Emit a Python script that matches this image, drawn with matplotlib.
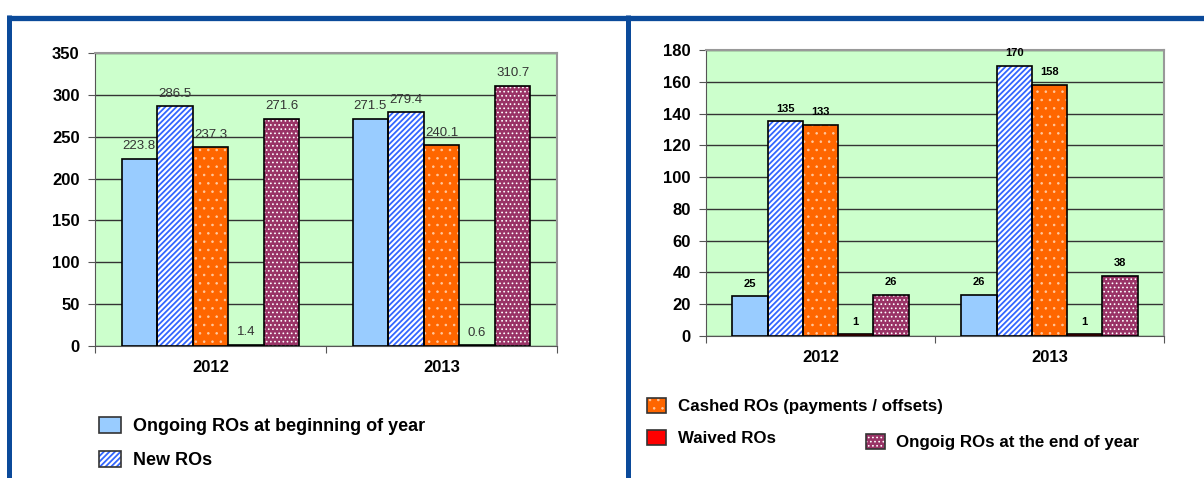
#!/usr/bin/env python3
"""Recovery orders (ROs) 2012/2013: amounts (left) and counts (right)."""
import matplotlib
matplotlib.use("Agg")
import matplotlib.pyplot as plt
from matplotlib.lines import Line2D
from matplotlib.patches import Patch
from matplotlib.legend_handler import HandlerTuple
import numpy as np

# ---------------------------------------------------------------------------
# Data
# ---------------------------------------------------------------------------
YEARS = ["2012", "2013"]
SERIES = ["Ongoing ROs at beginning of year", "New ROs",
          "Cashed ROs (payments / offsets)", "Waived ROs",
          "Ongoig ROs at the end of year"]

AMOUNT_2012 = [223.8, 286.5, 237.3, 1.4, 271.6]
AMOUNT_2013 = [271.5, 279.4, 240.1, 0.6, 310.7]
COUNT_2012 = [25, 135, 133, 1, 26]
COUNT_2013 = [26, 170, 158, 1, 38]

AMOUNT_TICKS = [0, 50, 100, 150, 200, 250, 300, 350]
COUNT_TICKS = [0, 20, 40, 60, 80, 100, 120, 140, 160, 180]

# ---------------------------------------------------------------------------
# Style
# ---------------------------------------------------------------------------
plt.rcParams["font.family"] = ["Liberation Sans", "DejaVu Sans"]

# (face, hatch, hatch colour, hatch linewidth)
STYLES = [
    ("#99CCFF", None, None, None),
    ("white", "//////", "#3366FF", 1.3),
    ("#FF6600", "..", "#FFC9A0", 0.6),
    ("#FF0000", None, None, None),
    ("#993366", "....", "#FFFFFF", 0.7),
]
PLOT_BG = "#CCFFCC"
BORDER = "#0B4A9A"
W = 0.154


def draw_bars(ax, v12, v13, ticks, label_kw, fmt):
    x = np.arange(len(YEARS))
    vals = np.array([v12, v13])
    for i, (face, hatch, hcol, hlw) in enumerate(STYLES):
        pos = x + (i - 2) * W
        h = vals[:, i]
        if hatch:
            plt.rcParams["hatch.linewidth"] = hlw
            ax.bar(pos, h, W, color=face, hatch=hatch, edgecolor=hcol,
                   linewidth=0, zorder=3)
        else:
            ax.bar(pos, h, W, color=face, linewidth=0, zorder=3)
        ax.bar(pos, h, W, fill=False, edgecolor="black", linewidth=1.2, zorder=4)
        for xi, v in zip(pos, h):
            ax.annotate(fmt(v), (xi, v), textcoords="offset points",
                        xytext=(0, 9), ha="center", va="center", **label_kw)

    ax.set_facecolor(PLOT_BG)
    ax.set_xlim(-0.5, 1.5)
    ax.set_ylim(ticks[0], ticks[-1])
    ax.set_yticks(ticks)
    ax.set_yticklabels([str(t) for t in ticks], fontsize=12, fontweight="bold")
    ax.set_xticks([-0.5, 0.5, 1.5])
    ax.set_xticklabels([])
    ax.set_xticks(x, minor=True)
    ax.set_xticklabels(YEARS, minor=True, fontsize=12, fontweight="bold")
    ax.tick_params(axis="x", which="minor", length=0, pad=10)
    ax.tick_params(axis="x", which="major", length=5, color="#555555")
    ax.tick_params(axis="y", length=5, color="#555555", pad=6)
    ax.grid(axis="y", color="#333333", linewidth=1.0, zorder=1)
    ax.set_axisbelow(True)
    for s in ["top", "right"]:
        ax.spines[s].set_color("#999999")
        ax.spines[s].set_linewidth(1.5)
    for s in ["left", "bottom"]:
        ax.spines[s].set_color("#555555")


def handle(i):
    face, hatch, hcol, hlw = STYLES[i]
    if hatch:
        plt.rcParams["hatch.linewidth"] = hlw
        return (Patch(facecolor=face, hatch=hatch, edgecolor=hcol, linewidth=0),
                Patch(fill=False, edgecolor="#333333", linewidth=1.2))
    return Patch(facecolor=face, edgecolor="#333333", linewidth=1.2)


fig = plt.figure(figsize=(12.04, 4.78), dpi=100)

ax1 = fig.add_axes([95 / 1204, 1 - 346 / 478, 462 / 1204, 293 / 478])
draw_bars(ax1, AMOUNT_2012, AMOUNT_2013, AMOUNT_TICKS,
          dict(fontsize=9.5, color="#333333"), lambda v: f"{v:.1f}")

ax2 = fig.add_axes([706 / 1204, 1 - 336 / 478, 458 / 1204, 286 / 478])
draw_bars(ax2, COUNT_2012, COUNT_2013, COUNT_TICKS,
          dict(fontsize=8, color="black", fontweight="bold"), lambda v: f"{v:.0f}")

# legend entries placed like the original slide: (series, x px, y px, font size)
LEG = [(0, 99, 426, 13), (1, 99, 460, 13), (2, 647, 406, 12.2), (3, 647, 438, 12.2),
       (4, 866, 442, 12.2)]
for i, px, py, fs in LEG:
    fig.legend([handle(i)], [SERIES[i]], loc="center left",
               bbox_to_anchor=(px / 1204, 1 - py / 478), frameon=False,
               handler_map={tuple: HandlerTuple(ndivide=1)},
               prop=dict(size=fs, weight="bold"),
               handlelength=1.2 if fs == 13 else 1.1,
               handleheight=0.95, handletextpad=0.7, borderaxespad=0,
               borderpad=0)

# blue frame lines of the slide
fig.add_artist(Line2D([7 / 1204, 1.0], [1 - 17.5 / 478] * 2, color=BORDER,
                      linewidth=3.8, solid_capstyle="butt"))
for xp in (9, 627.5):
    fig.add_artist(Line2D([xp / 1204] * 2, [1 - 15 / 478, 0], color=BORDER,
                          linewidth=3.6, solid_capstyle="butt"))

fig.savefig("out.png", dpi=100)
